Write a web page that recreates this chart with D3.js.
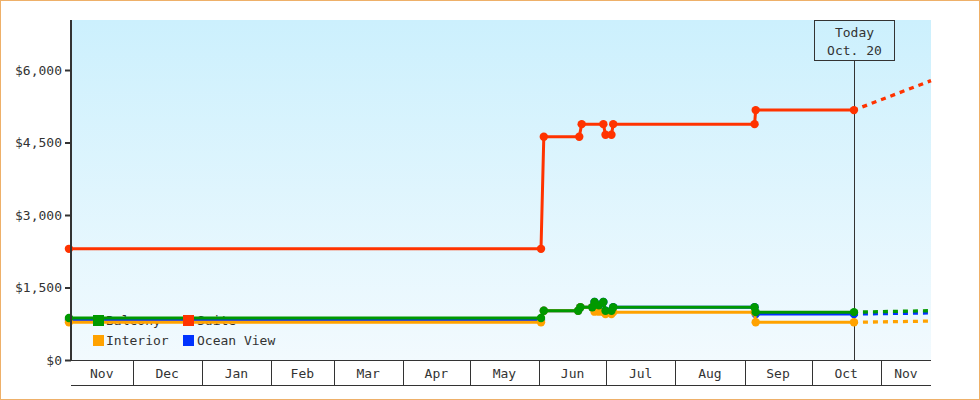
<!DOCTYPE html>
<html><head><meta charset="utf-8">
<script src="https://cdn.jsdelivr.net/npm/d3@7"></script>
<style>
html,body{margin:0;padding:0;background:#fff;}
svg{display:block;}
text{font-family:"DejaVu Sans Mono",monospace;font-size:13px;fill:#333;}
</style></head><body>
<svg id="c" width="980" height="400"></svg>
<script>
// ---- data ----
const domainStart = "2012-11-03 10";
const domainEnd = "2013-11-23 12";
const todayDate = "2013-10-20 00";
const todayLabel = ["Today", "Oct. 20"];
const monthLabels = ["Nov","Dec","Jan","Feb","Mar","Apr","May","Jun","Jul","Aug","Sep","Oct","Nov"];
const yTickValues = [0, 1500, 3000, 4500, 6000];
const yTickLabels = ["$0", "$1,500", "$3,000", "$4,500", "$6,000"];
const yMax = 7000;

const legendOrder = ["Balcony", "Suite", "Interior", "Ocean View"];
const drawOrder = ["Ocean View", "Interior", "Balcony", "Suite"];

const interior = [
  ["2012-11-02 12", 780], ["2013-06-01 21", 780], ["2013-06-03 03", 1020],
  ["2013-06-18 12", 1020], ["2013-06-19 12", 1090], ["2013-06-24 20", 1090],
  ["2013-06-25 20", 1000], ["2013-06-27 19", 1000], ["2013-06-29 19", 990],
  ["2013-06-30 18", 950], ["2013-07-03 10", 950], ["2013-07-04 05", 990],
  ["2013-09-05 12", 990], ["2013-09-06 00", 780], ["2013-10-20 00", 780]
];
const oceanView = [
  ["2012-11-02 12", 830], ["2013-06-01 21", 830], ["2013-06-03 03", 1020],
  ["2013-06-18 12", 1020], ["2013-06-19 12", 1090], ["2013-06-24 20", 1090],
  ["2013-06-25 20", 1200], ["2013-06-27 19", 1130], ["2013-06-29 19", 1200],
  ["2013-06-30 18", 1020], ["2013-07-03 10", 1020], ["2013-07-04 05", 1090],
  ["2013-09-05 12", 1090], ["2013-09-06 00", 950], ["2013-10-20 00", 950]
];
const balcony = [
  ["2012-11-02 12", 870], ["2013-06-01 21", 870], ["2013-06-03 03", 1020],
  ["2013-06-18 12", 1020], ["2013-06-19 12", 1090], ["2013-06-24 20", 1090],
  ["2013-06-25 20", 1200], ["2013-06-27 19", 1130], ["2013-06-29 19", 1200],
  ["2013-06-30 18", 1020], ["2013-07-03 10", 1020], ["2013-07-04 05", 1090],
  ["2013-09-05 12", 1090], ["2013-09-06 00", 990], ["2013-10-20 00", 990]
];
const suite = [
  ["2012-11-02 12", 2300], ["2013-06-01 21", 2300], ["2013-06-03 03", 4620],
  ["2013-06-19 00", 4620], ["2013-06-20 02", 4880], ["2013-06-29 19", 4880],
  ["2013-06-30 18", 4660], ["2013-07-03 10", 4660], ["2013-07-04 05", 4880],
  ["2013-09-05 12", 4880], ["2013-09-06 00", 5170], ["2013-10-20 00", 5170]
];
const interiorForecast = [["2013-10-20 00", 780], ["2013-11-23 12", 805]];
const oceanViewForecast = [["2013-10-20 00", 950], ["2013-11-23 12", 975]];
const balconyForecast = [["2013-10-20 00", 990], ["2013-11-23 12", 1020]];
const suiteForecast = [["2013-10-20 00", 5170], ["2013-11-23 12", 5780]];

// ---- styles ----
const colors = {"Interior": "#ffa200", "Ocean View": "#0033ff", "Balcony": "#009900", "Suite": "#ff3300"};
const series = {
  "Interior": {hist: interior, fc: interiorForecast},
  "Ocean View": {hist: oceanView, fc: oceanViewForecast},
  "Balcony": {hist: balcony, fc: balconyForecast},
  "Suite": {hist: suite, fc: suiteForecast}
};

const parse = d3.utcParse("%Y-%m-%d %H");
const svg = d3.select("#c");
const L = 71, R = 931, T = 20, B = 360;

const x = d3.scaleUtc().domain([parse(domainStart), parse(domainEnd)]).range([L, R]);
const y = d3.scaleLinear().domain([0, yMax]).range([B, B - 290 * yMax / 6000]);

// border
svg.append("rect").attr("x", 0.5).attr("y", 0.5).attr("width", 979).attr("height", 399)
  .attr("fill", "#fff").attr("stroke", "#eeb069").attr("stroke-width", 1);

// gradient bg
const defs = svg.append("defs");
const grad = defs.append("linearGradient").attr("id", "bg").attr("x1", 0).attr("y1", 0).attr("x2", 0).attr("y2", 1);
grad.append("stop").attr("offset", "0%").attr("stop-color", "#ccf0fd");
grad.append("stop").attr("offset", "100%").attr("stop-color", "#f2fafe");
svg.append("rect").attr("x", L).attr("y", T).attr("width", R - L).attr("height", B - T).attr("fill", "url(#bg)");

// x axis bands
const months = d3.utcMonth.range(x.domain()[0], x.domain()[1]);
const edges = [x.domain()[0], ...months, x.domain()[1]];
const xa = svg.append("g");
xa.append("line").attr("x1", L).attr("x2", R).attr("y1", B + 0.5).attr("y2", B + 0.5).attr("stroke", "#333");
xa.append("line").attr("x1", L).attr("x2", R).attr("y1", 385.5).attr("y2", 385.5).attr("stroke", "#333");
xa.selectAll("line.sep").data(months).enter().append("line").attr("class", "sep")
  .attr("x1", d => Math.round(x(d)) + 0.5).attr("x2", d => Math.round(x(d)) + 0.5)
  .attr("y1", B).attr("y2", 385).attr("stroke", "#333");
xa.selectAll("text").data(monthLabels).enter().append("text")
  .attr("x", (d, i) => (x(edges[i]) + x(edges[i + 1])) / 2)
  .attr("y", 378).attr("text-anchor", "middle").text(d => d);

// legend text (under lines)
const legendPos = (i) => ({gx: 93 + (i % 2) * 90, gy: 315 + Math.floor(i / 2) * 20});
const lgText = svg.append("g");
legendOrder.forEach((name, i) => {
  const p = legendPos(i);
  lgText.append("text").attr("x", p.gx + 13 + (i % 2)).attr("y", p.gy + 10).text(name);
});

// today marker
const tx = Math.round(x(parse(todayDate))) + 0.5;
svg.append("line").attr("x1", tx).attr("x2", tx).attr("y1", 61).attr("y2", B).attr("stroke", "#333");
svg.append("rect").attr("x", tx - 40).attr("y", 20.5).attr("width", 80).attr("height", 40)
  .attr("fill", "none").attr("stroke", "#333");
svg.append("text").attr("x", tx).attr("y", 37).attr("text-anchor", "middle").text(todayLabel[0]);
svg.append("text").attr("x", tx).attr("y", 55).attr("text-anchor", "middle").text(todayLabel[1]);

// lines
const line = d3.line().x(d => x(parse(d[0]))).y(d => y(d[1]));
drawOrder.forEach(name => {
  const s = series[name];
  const g = svg.append("g");
  g.append("path").attr("d", line(s.fc)).attr("fill", "none").attr("stroke", colors[name])
    .attr("stroke-width", 3.3).attr("stroke-dasharray", "5,5").attr("stroke-dashoffset", -9);
  g.append("path").attr("d", line(s.hist)).attr("fill", "none").attr("stroke", colors[name])
    .attr("stroke-width", 3).attr("stroke-linejoin", "round");
  g.selectAll("circle").data(s.hist).enter().append("circle")
    .attr("cx", d => x(parse(d[0]))).attr("cy", d => y(d[1])).attr("r", 4.2).attr("fill", colors[name]);
});

// legend swatches (over lines)
const lgSw = svg.append("g");
legendOrder.forEach((name, i) => {
  const p = legendPos(i);
  lgSw.append("rect").attr("x", p.gx).attr("y", p.gy).attr("width", 11).attr("height", 11).attr("fill", colors[name]);
});

// y axis
const ya = svg.append("g").attr("transform", `translate(${L},0)`)
  .call(d3.axisLeft(y).tickValues(yTickValues).tickSize(6).tickSizeOuter(0).tickPadding(3)
    .tickFormat((d, i) => yTickLabels[i]));
ya.select(".domain").attr("stroke", "#333").attr("stroke-width", 2).attr("d", `M0,${T}V${B}`);
ya.selectAll(".tick line").attr("stroke", "#333").attr("stroke-width", 2);
ya.selectAll(".tick text").attr("fill", "#333").style("font-family", '"DejaVu Sans Mono",monospace').style("font-size", "13px");
</script>
</body></html>
